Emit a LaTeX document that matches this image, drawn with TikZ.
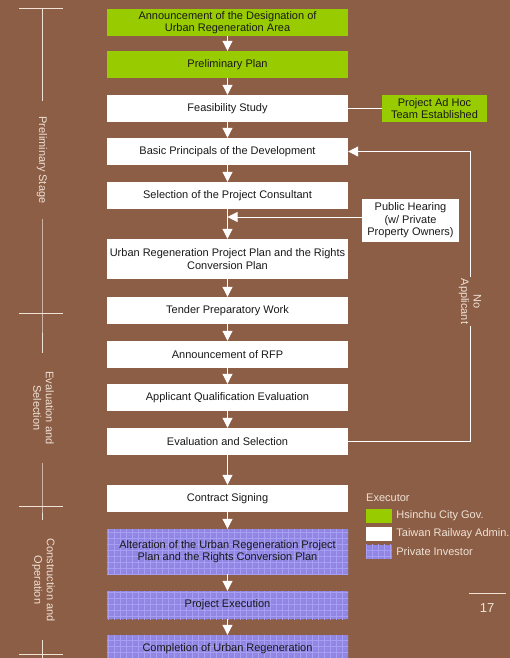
\documentclass[tikz,border=0pt]{standalone}
\usepackage{fontspec}
\setmainfont{Liberation Sans}
\usetikzlibrary{arrows.meta,patterns}

\definecolor{bgbrown}{RGB}{140,94,70}
\definecolor{cityGreen}{RGB}{153,204,0}
\definecolor{investBase}{RGB}{143,133,226}
\definecolor{investLine}{RGB}{168,158,244}
\definecolor{paleText}{RGB}{240,226,214}
\definecolor{darkText}{RGB}{25,25,25}

% woven grid used for the private-investor steps
\pgfdeclarepatternformonly{investgrid}{\pgfpoint{-0.5pt}{-0.5pt}}{\pgfpoint{6.5pt}{6.5pt}}{\pgfpoint{6pt}{6pt}}{
  \pgfsetlinewidth{0.75pt}
  \pgfpathmoveto{\pgfpoint{0pt}{0pt}}\pgfpathlineto{\pgfpoint{6pt}{0pt}}
  \pgfpathmoveto{\pgfpoint{0pt}{0pt}}\pgfpathlineto{\pgfpoint{0pt}{6pt}}
  \pgfusepath{stroke}
  \pgfpathcircle{\pgfpoint{3pt}{3pt}}{0.6pt}
  \pgfusepath{fill}
}

\tikzset{
  every node/.style={font=\fontsize{11}{12.5}\selectfont},
  stepbox/.style={minimum width=241pt, minimum height=27pt, inner sep=0pt,
    align=center, text=darkText},
  cityStep/.style={stepbox, fill=cityGreen},
  railStep/.style={stepbox, fill=white},
  investStep/.style={stepbox, preaction={fill=investBase},
    pattern=investgrid, pattern color=investLine},
  flow/.style={draw=white, line width=1pt, -{Triangle[width=10pt,length=10pt]}},
  link/.style={draw=white, line width=1pt},
  phaseLine/.style={draw=paleText, line width=1pt},
  phaseLabel/.style={text=paleText, align=center, rotate=-90, inner ysep=0pt},
  swatch/.style={minimum width=26pt, minimum height=14pt, inner sep=0pt},
  legendText/.style={anchor=west, text=paleText, inner sep=0pt},
}

\begin{document}
\begin{tikzpicture}[x=1pt, y=-1pt]
  \fill[bgbrown] (0,0) rectangle (510,658);
  \useasboundingbox (0,0) rectangle (510,658);

  % main sequence of steps
  \node[cityStep] (announce) at (227.5,22.5) {Announcement of the Designation of\\Urban Regeneration Area};
  \node[cityStep] (prelim) at (227.5,64.5) {Preliminary Plan};
  \node[railStep] (feas) at (227.5,108.5) {Feasibility Study};
  \node[railStep] (basic) at (227.5,151.5) {Basic Principals of the Development};
  \node[railStep] (consult) at (227.5,195.5) {Selection of the Project Consultant};
  \node[railStep, minimum height=40pt] (urplan) at (227.5,259) {Urban Regeneration Project Plan and the Rights\\Conversion Plan};
  \node[railStep] (tender) at (227.5,310.5) {Tender Preparatory Work};
  \node[railStep] (rfp) at (227.5,354.5) {Announcement of RFP};
  \node[railStep] (qualify) at (227.5,397.5) {Applicant Qualification Evaluation};
  \node[railStep] (evalsel) at (227.5,441.5) {Evaluation and Selection};
  \node[railStep] (contract) at (227.5,498.5) {Contract Signing};
  \node[investStep, minimum height=45pt] (alter) at (227.5,551.5) {Alteration of the Urban Regeneration Project\\Plan and the Rights Conversion Plan};
  \node[investStep, minimum height=28pt] (exec) at (227.5,605) {Project Execution};
  \node[investStep] (complete) at (227.5,648.5) {Completion of Urban Regeneration};

  \foreach \a/\b in {announce/prelim, prelim/feas, feas/basic, basic/consult,
      consult/urplan, urplan/tender, tender/rfp, rfp/qualify, qualify/evalsel,
      evalsel/contract, contract/alter, alter/exec, exec/complete}
    \draw[flow] (\a.south) -- (\b.north);

  % side notes
  \node[cityStep, minimum width=105pt] (adhoc) at (434.5,108.5) {Project Ad Hoc\\Team Established};
  \draw[link] (feas.east) -- (adhoc.west);

  \node[railStep, minimum width=97pt, minimum height=43pt] (hearing) at (410.5,220.5) {Public Hearing\\(w/ Private\\Property Owners)};
  \coordinate (hearIn) at ([yshift=3.5pt]hearing.west);
  \draw[flow] (hearIn) -- (hearIn -| consult.south);

  % return path when no applicant
  \coordinate (loopx) at (470,0);
  \draw[flow] (evalsel.east) -| (loopx |- basic.east) -- (basic.east);
  \node[phaseLabel, fill=bgbrown, inner xsep=1.5pt, inner ysep=1pt] (noapp) at (470,301.5) {No\\Applicant};

  % project phases along the left edge
  \coordinate (tick0) at (42,9);
  \coordinate (tick1) at (42,313);
  \coordinate (tick2) at (42,506);
  \coordinate (tick3) at (42,654);
  \coordinate (phaseEnd) at (42,660);
  \node[phaseLabel, inner xsep=15pt] (stage1) at (42,160) {Preliminary Stage};
  \node[phaseLabel, inner xsep=18pt] (stage2) at (43.5,408) {Evaluation and\\Selection};
  \node[phaseLabel, inner xsep=18pt] (stage3) at (43.5,580) {Construction and\\Operation};
  \draw[phaseLine] (tick0) -- (stage1.west);
  \draw[phaseLine] (stage1.east) -- (tick1) -- (tick1 |- stage2.west);
  \draw[phaseLine] (tick1 |- stage2.east) -- (tick2) -- (tick2 |- stage3.west);
  \draw[phaseLine] (tick3 |- stage3.east) -- (phaseEnd);
  \foreach \t in {tick0,tick1,tick2,tick3}
    \draw[phaseLine] ([xshift=-23pt]\t) -- ([xshift=21pt]\t);

  % legend
  \node[legendText] (executor) at (366,498) {Executor};
  \node[swatch, fill=cityGreen] (swCity) at (379,516) {};
  \node[swatch, fill=white] (swRail) at (379,533.5) {};
  \node[swatch, preaction={fill=investBase}, pattern=investgrid, pattern color=investLine] (swInvest) at (379,551.5) {};
  \node[legendText] at ([xshift=4pt]swCity.east) {Hsinchu City Gov.};
  \node[legendText] at ([xshift=4pt]swRail.east) {Taiwan Railway Admin.};
  \node[legendText] at ([xshift=4pt]swInvest.east) {Private Investor};

  % page number
  \node[text=paleText, font=\fontsize{13}{15}\selectfont, inner sep=0pt] (pagenum) at (487,608) {17};
  \coordinate (ruleL) at (469,593);
  \coordinate (ruleR) at (506,593);
  \draw[phaseLine] (ruleL) -- (ruleR);
\end{tikzpicture}
\end{document}
